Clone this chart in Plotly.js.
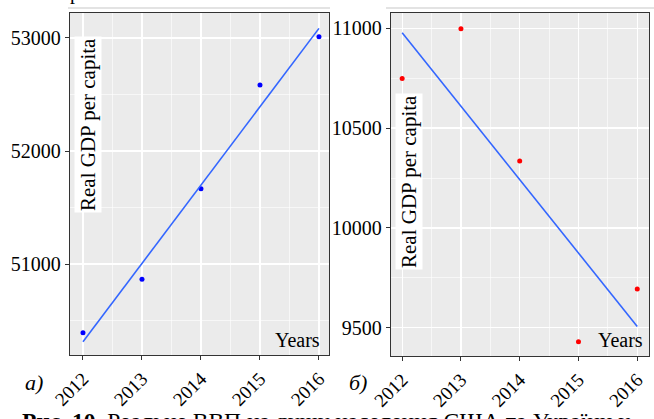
<!DOCTYPE html>
<html>
<head>
<meta charset="utf-8">
<script src="https://cdn.plot.ly/plotly-3.0.1.min.js"></script>
<style>html,body{margin:0;padding:0;background:#fff;}#chart{width:654px;height:419px;}</style>
</head>
<body>
<div id="chart"></div>
<script>
// Data
var years = [2012, 2013, 2014, 2015, 2016];
var usaGdp = [50392, 50865, 51666, 52584, 53010];
var ukrGdp = [10749, 10998, 10335, 9430, 9694];
var trendYears = [2012, 2016];
var usaTrend = [50312, 53085];
var ukrTrend = [10978, 9506];
var yTitle = "Real GDP per capita";
var xTitle = "Years";
var panelLabels = ["а)", "б)"];
var caption = "<b>Рис. 10.</b> Реальне ВВП на душу населення США та України у";

var W = 654, H = 419;
var px = function(x){ return x / W; };
var py = function(y){ return 1 - y / H; };
var serif = "Liberation Serif";

var traces = [
  {x: years, y: usaGdp, xaxis: 'x', yaxis: 'y', mode: 'markers', type: 'scatter',
   marker: {color: '#0000FF', size: 5}, hoverinfo: 'skip'},
  {x: trendYears, y: usaTrend, xaxis: 'x', yaxis: 'y', mode: 'lines', type: 'scatter',
   line: {color: '#3366FF', width: 1.6}, hoverinfo: 'skip'},
  {x: years, y: ukrGdp, xaxis: 'x2', yaxis: 'y2', mode: 'markers', type: 'scatter',
   marker: {color: '#FF0000', size: 5}, hoverinfo: 'skip'},
  {x: trendYears, y: ukrTrend, xaxis: 'x2', yaxis: 'y2', mode: 'lines', type: 'scatter',
   line: {color: '#3366FF', width: 1.6}, hoverinfo: 'skip'}
];

function xAx(domain, anchor, range){
  return {domain: domain, anchor: anchor, range: range, tickmode: 'array', tickvals: years,
    ticktext: years.map(String),
    tickangle: -45, tickfont: {family: serif, size: 19, color: '#000'},
    showline: true, mirror: true, linecolor: '#333', linewidth: 1.2,
    ticks: 'outside', ticklen: 4, tickcolor: '#333', tickwidth: 1,
    showgrid: true, gridcolor: '#FFFFFF', gridwidth: 1.3, zeroline: false,
    minor: {dtick: 0.5, showgrid: true, gridcolor: '#FFFFFF', gridwidth: 0.6}};
}
function yAx(domain, anchor, range, dtick){
  return {domain: domain, anchor: anchor, range: range, tickmode: 'linear', dtick: dtick, tick0: 0,
    tickformat: 'd',
    tickfont: {family: serif, size: 20, color: '#000'},
    showline: true, mirror: true, linecolor: '#333', linewidth: 1.2,
    ticks: 'outside', ticklen: 4, tickcolor: '#333', tickwidth: 1,
    showgrid: true, gridcolor: '#FFFFFF', gridwidth: 1.3, zeroline: false,
    minor: {dtick: dtick / 2, showgrid: true, gridcolor: '#FFFFFF', gridwidth: 0.6}};
}

function note(x, y, text, size, extra){
  var a = {xref: 'paper', yref: 'paper', x: px(x), y: py(y), text: text, showarrow: false,
    xanchor: 'center', yanchor: 'middle', font: {family: serif, size: size, color: '#000'}};
  for (var k in (extra || {})) a[k] = extra[k];
  return a;
}

var layout = {
  width: W, height: H,
  margin: {l: 0, r: 0, t: 0, b: 0},
  paper_bgcolor: '#FFFFFF', plot_bgcolor: '#EBEBEB',
  font: {family: serif, size: 20, color: '#000'},
  showlegend: false,
  xaxis: xAx([px(70), px(329)], 'y', [2011.78, 2016.17]),
  yaxis: yAx([py(355), py(13)], 'x', [50195, 53221], 1000),
  xaxis2: xAx([px(391), px(649)], 'y2', [2011.81, 2016.2]),
  yaxis2: yAx([py(356), py(13)], 'x2', [9358, 11077], 500),
  shapes: [
    {type: 'line', xref: 'paper', yref: 'paper', x0: px(68), x1: px(330), y0: py(8), y1: py(8),
     line: {color: '#C8C8C8', width: 1.2}},
    {type: 'line', xref: 'paper', yref: 'paper', x0: px(386), x1: 1, y0: py(8), y1: py(8),
     line: {color: '#C8C8C8', width: 1.2}}
  ],
  annotations: [
    note(88, 124, yTitle, 21, {textangle: -90, bgcolor: '#FFFFFF', borderpad: 1}),
    note(409, 182, yTitle, 21, {textangle: -90, bgcolor: '#FFFFFF', borderpad: 1}),
    note(297, 340, xTitle, 20),
    note(620, 340, xTitle, 20),
    note(34, 382, '<i>' + panelLabels[0] + '</i>', 22),
    note(358, 382, '<i>' + panelLabels[1] + '</i>', 22),
    note(20, 406, caption, 23.5, {xanchor: 'left', yanchor: 'top'}),
    note(75, -8, 'р', 20)
  ]
};

Plotly.newPlot('chart', traces, layout, {staticPlot: true, displayModeBar: false});
</script>
</body>
</html>
